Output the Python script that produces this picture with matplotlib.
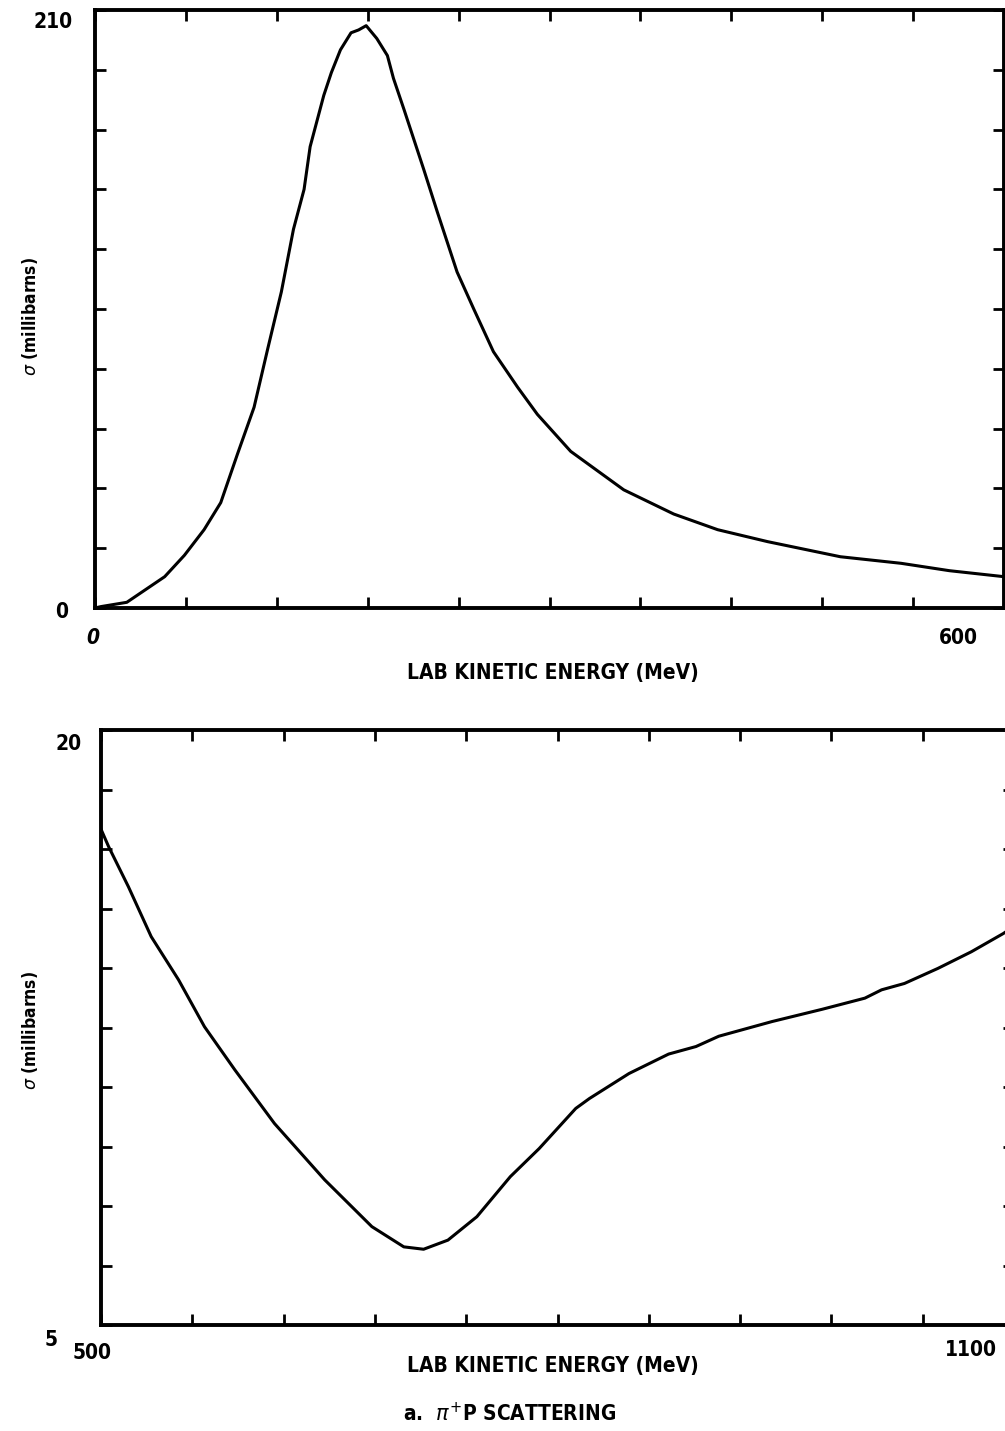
import numpy as np
import matplotlib.pyplot as plt

# pi+ p total cross section
energy_low = [0, 4, 21, 46, 59, 72, 83, 94, 105, 114, 123, 131, 138, 142, 151, 156,
              162, 169, 174, 179, 186, 193, 197, 204, 217, 226, 239, 250, 263, 279,
              292, 314, 349, 382, 411, 444, 492, 532, 564, 600]
sigma_low = [0, 0.5, 2, 11, 18.5, 27.5, 37, 54, 70.5, 91, 111, 133, 147, 162, 180, 188,
             196, 202, 203, 204.5, 200, 194, 186, 175, 154, 139, 118, 105, 90, 77.5,
             68, 55, 41.5, 33, 27.5, 23.3, 18, 15.7, 13.1, 11]

energy_high = [500, 505, 518, 533, 551, 568, 588, 614, 647, 678, 699, 712, 728, 747,
               769, 788, 812, 821, 847, 873, 891, 906, 941, 974, 1002, 1013, 1028,
               1050, 1072, 1093, 1100]
sigma_high = [17.5, 17.06, 16.05, 14.79, 13.7, 12.52, 11.43, 10.08, 8.66, 7.48, 6.97,
              6.91, 7.14, 7.73, 8.74, 9.45, 10.46, 10.71, 11.34, 11.83, 12.02, 12.28,
              12.65, 12.96, 13.24, 13.45, 13.61, 13.99, 14.41, 14.87, 15.05]

W, H = 1005, 1431
fig = plt.figure(figsize=(W / 100, H / 100), dpi=100)

lab = dict(family='DejaVu Sans', stretch='condensed', weight='bold', color='black')


def px(x, y):
    return x / W, 1 - y / H


def style(ax):
    for s in ax.spines.values():
        s.set_linewidth(2.8)
    ax.tick_params(direction='in', top=True, right=True, length=8, width=2,
                   labelbottom=False, labelleft=False)


# upper panel: 0 - 600 MeV
ax1 = fig.add_axes([95 / W, 1 - 608 / H, 909 / W, 598 / H])
ax1.plot(energy_low, sigma_low, color='black', lw=2.2)
ax1.set_xlim(0, 600)
ax1.set_ylim(0, 210)
ax1.set_xticks(np.arange(0, 601, 60))
ax1.set_yticks(np.arange(0, 211, 21))
style(ax1)

# lower panel: 500 - 1100 MeV (right edge runs past the page)
ax2 = fig.add_axes([101 / W, 1 - 1325 / H, 913 / W, 595 / H])
ax2.plot(energy_high, sigma_high, color='black', lw=2.2)
ax2.set_xlim(500, 1100)
ax2.set_ylim(5, 20)
ax2.set_xticks(np.arange(500, 1101, 60))
ax2.set_yticks(np.arange(5, 20.1, 1.5))
style(ax2)

# tick labels (only at the ends, as in the original)
fig.text(*px(73, 22), '210', ha='right', va='center', fontsize=15, **lab)
fig.text(*px(68, 612), '0', ha='right', va='center', fontsize=15, **lab)
fig.text(*px(93, 638), '0', ha='center', va='center', fontsize=15, style='italic', **lab)
fig.text(*px(958, 638), '600', ha='center', va='center', fontsize=15, **lab)

fig.text(*px(82, 744), '20', ha='right', va='center', fontsize=15, **lab)
fig.text(*px(58, 1340), '5', ha='right', va='center', fontsize=15, **lab)
fig.text(*px(92, 1353), '500', ha='center', va='center', fontsize=15, **lab)
fig.text(*px(971, 1350), '1100', ha='center', va='center', fontsize=15, **lab)

# axis titles
fig.text(*px(553, 673), 'LAB KINETIC ENERGY (MeV)', ha='center', va='center', fontsize=15, **lab)
fig.text(*px(553, 1366), 'LAB KINETIC ENERGY (MeV)', ha='center', va='center', fontsize=15, **lab)
fig.text(*px(30, 316), r'$\sigma$ (millibarns)', ha='center', va='center',
         rotation=90, fontsize=12.5, **lab)
fig.text(*px(30, 1030), r'$\sigma$ (millibarns)', ha='center', va='center',
         rotation=90, fontsize=12.5, **lab)

fig.text(*px(510, 1413), r'a.  $\pi^{+}$P SCATTERING', ha='center', va='center',
         fontsize=15, **lab)

plt.savefig('out.png', dpi=100)
